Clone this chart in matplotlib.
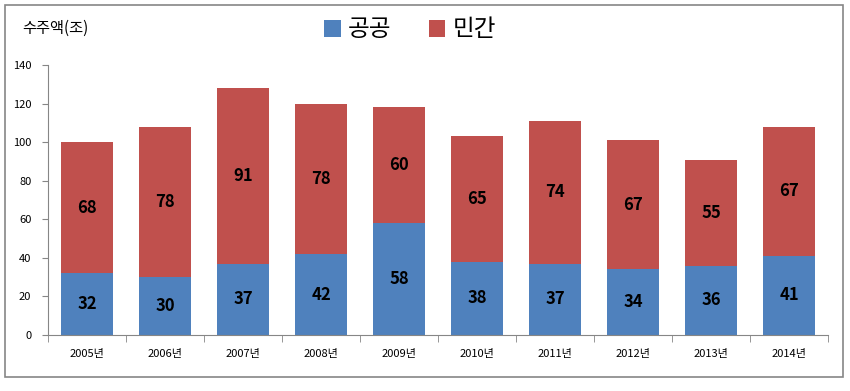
import numpy as np
import matplotlib.pyplot as plt
from matplotlib.patches import Rectangle

plt.rcParams['font.family'] = ['Noto Sans CJK KR', 'DejaVu Sans']

years = ['2005년', '2006년', '2007년', '2008년', '2009년',
         '2010년', '2011년', '2012년', '2013년', '2014년']
public = [32, 30, 37, 42, 58, 38, 37, 34, 36, 41]
private = [68, 78, 91, 78, 60, 65, 74, 67, 55, 67]

blue = '#4F81BD'
red = '#C0504D'
grey = '#868686'

fig = plt.figure(figsize=(8.5, 3.91), dpi=100)
ax = fig.add_axes([48/850, 56/391, 780/850, 270/391])

x = np.arange(len(years))
b1 = ax.bar(x, public, width=0.67, color=blue, label='공공')
b2 = ax.bar(x, private, width=0.67, bottom=public, color=red, label='민간')

for i in range(len(x)):
    ax.text(x[i], public[i] / 2, str(public[i]), ha='center', va='center',
            fontsize=12, fontweight='bold', color='black')
    ax.text(x[i], public[i] + private[i] / 2, str(private[i]), ha='center', va='center',
            fontsize=12, fontweight='bold', color='black')

ax.set_xlim(-0.5, len(years) - 0.5)
ax.set_ylim(0, 140)
ax.set_yticks(range(0, 141, 20))
ax.tick_params(axis='y', labelsize=8, length=4, color=grey, pad=8)
ax.set_xticks(x)
ax.set_xticklabels(years, fontsize=8)
ax.tick_params(axis='x', length=0, pad=10)
ax.set_xticks(np.arange(-0.5, len(years)), minor=True)
ax.tick_params(axis='x', which='minor', length=5, color=grey)

for s in ['top', 'right']:
    ax.spines[s].set_visible(False)
for s in ['left', 'bottom']:
    ax.spines[s].set_color(grey)

fig.text(22/850, 1 - 28/391, '수주액(조)', fontsize=11, va='center', ha='left')

fig.legend(handles=[b1, b2], loc='center', bbox_to_anchor=(410/850, 1 - 30/391),
           ncol=2, frameon=False, fontsize=17, handlelength=0.7, handleheight=0.7,
           handletextpad=0.3, columnspacing=1.6)

fig.patches.append(Rectangle((5/850, 14/391), 838/850, 372/391, transform=fig.transFigure,
                             fill=False, edgecolor=grey, linewidth=1.2))

fig.savefig('out.png', dpi=100)
